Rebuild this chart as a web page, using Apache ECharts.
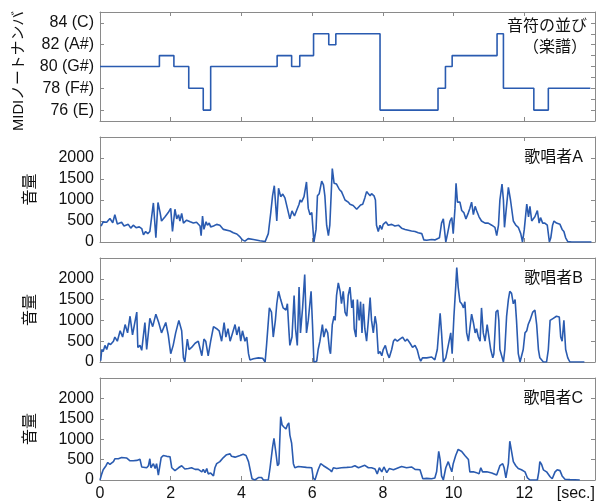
<!DOCTYPE html>
<html><head><meta charset="utf-8">
<script src="https://cdn.jsdelivr.net/npm/echarts@6/dist/echarts.min.js"></script>
<style>html,body{margin:0;padding:0;background:#fff}#c{width:600px;height:502px}</style>
</head><body><div id="c"></div>
<script>
// ---- Data ----
const noteTimes = [0,1.68,2.09,2.51,2.92,3.13,5.01,5.42,5.65,6.04,6.47,6.67,7.92,9.56,9.77,9.96,11.23,11.41,12.27,12.68,13.87];
const noteValues = [80,81,80,78,76,80,81,80,81,83,82,83,76,78,80,81,83,78,76,78,78];
const noteTickValues = [76,78,80,82,84];
const noteTickLabels = ['76 (E)','78 (F#)','80 (G#)','82 (A#)','84 (C)'];

const timesA = [0.03,0.09,0.19,0.28,0.36,0.42,0.49,0.61,0.68,0.80,0.87,0.94,1.02,1.11,1.18,1.23,1.29,1.35,1.41,1.51,1.58,1.64,1.70,1.74,1.84,1.93,2.00,2.05,2.12,2.17,2.22,2.26,2.31,2.36,2.45,2.55,2.64,2.73,2.83,2.86,2.90,2.94,3.00,3.04,3.09,3.13,3.21,3.30,3.39,3.49,3.68,3.77,3.87,3.96,4.03,4.10,4.19,4.34,4.52,4.67,4.71,4.76,4.83,4.88,4.93,5.00,5.05,5.11,5.17,5.23,5.30,5.37,5.43,5.50,5.56,5.63,
5.66,5.70,5.77,5.84,5.89,5.94,5.99,6.05,6.11,6.15,6.20,6.27,6.32,6.36,6.41,6.46,6.50,6.57,6.62,6.69,6.77,6.83,6.88,6.93,7.02,7.07,7.16,7.26,7.31,7.37,7.43,7.49,7.54,7.59,7.64,7.68,7.75,7.79,7.82,7.87,7.92,7.97,8.01,8.09,8.15,8.25,8.34,8.44,8.53,8.63,8.72,8.81,8.91,9.00,9.10,9.16,9.24,9.38,9.47,9.52,9.60,9.66,9.71,9.78,9.83,9.90,9.95,9.99,10.04,10.07,10.11,10.18,10.23,10.29,10.35,10.42,10.46,10.51,10.56,10.61,10.65,10.72,10.79,10.89,10.98,11.08,11.17,11.22,11.27,11.31,11.37,11.41,11.44,11.48,11.55,11.61,11.69,11.76,11.83,11.90,11.95,12.00,12.07,12.12,12.16,12.21,12.26,12.30,12.37,12.42,12.46,12.52,12.58,12.65,12.71,12.75,12.80,12.84,12.91,13.01,13.07,13.12,13.17,13.23,13.34,13.90];
const volumeA = [380,480,470,560,460,650,430,470,380,420,330,400,340,360,320,170,250,200,250,930,100,940,700,500,600,700,800,250,780,550,650,500,680,450,520,480,450,470,380,150,620,300,480,400,450,360,380,420,400,300,260,220,190,120,50,20,80,60,30,10,0,200,700,1100,1340,500,1280,1080,1140,1050,800,550,740,620,750,900,
1000,950,1080,1430,800,650,700,0,300,1100,1150,1450,1360,1100,400,150,400,1747,1400,1380,1250,1200,1100,1000,950,900,870,780,800,880,900,1050,1200,1150,1100,1150,1100,1000,400,250,400,300,420,480,400,420,380,400,330,300,280,260,250,220,200,50,40,60,50,40,100,450,550,0,200,500,580,200,800,1400,950,950,750,700,550,700,800,950,650,850,750,600,500,450,450,400,350,150,400,1000,1380,1000,350,700,1300,1000,500,400,350,200,0,300,900,600,850,500,500,600,750,450,580,450,450,400,0,100,400,500,450,420,300,250,100,10,0,0];

const timesB = [0.02,0.05,0.09,0.14,0.19,0.24,0.30,0.38,0.42,0.49,0.57,0.64,0.71,0.78,0.85,0.92,1.04,1.07,1.13,1.18,1.27,1.32,1.41,1.49,1.58,1.66,1.74,1.86,1.93,2.00,2.07,2.14,2.23,2.31,2.36,2.40,2.47,2.52,2.59,2.69,2.78,2.88,2.94,2.99,3.06,3.13,3.21,3.30,3.37,3.44,3.51,3.56,3.62,3.68,3.82,3.87,3.93,3.98,4.03,4.10,4.15,4.20,4.24,4.34,4.48,4.60,4.67,4.71,4.79,4.85,4.90,4.96,5.00,5.05,5.11,5.18,5.26,5.30,5.34,5.37,5.43,5.49,5.53,5.58,5.63,
5.67,5.73,5.79,5.84,5.89,5.97,6.01,6.05,6.13,6.17,6.22,6.29,6.33,6.39,6.44,6.49,6.52,6.57,6.62,6.65,6.69,6.74,6.79,6.83,6.88,6.93,6.98,7.02,7.07,7.12,7.16,7.19,7.24,7.28,7.33,7.37,7.41,7.45,7.49,7.54,7.59,7.64,7.68,7.73,7.78,7.82,7.87,7.92,7.97,8.01,8.07,8.13,8.18,8.25,8.30,8.34,8.41,8.48,8.56,8.63,8.69,8.77,8.84,8.91,8.97,9.03,9.07,9.12,9.24,9.38,9.47,9.54,9.62,9.66,9.71,9.78,9.85,9.92,9.96,10.01,10.06,10.09,10.13,10.18,10.23,10.28,10.32,10.37,10.42,10.46,10.51,10.56,10.61,10.65,10.70,10.75,10.79,10.84,10.89,10.95,11.00,11.05,11.11,11.14,11.20,11.25,11.28,11.31,11.36,11.41,11.45,11.50,11.55,11.59,11.64,11.69,11.74,11.78,11.83,11.88,11.92,11.97,12.02,12.07,12.11,12.16,12.24,12.30,12.35,12.40,12.44,12.54,12.63,12.68,12.73,12.77,12.82,12.91,12.99,13.03,13.07,13.12,13.17,13.23,13.29,13.70];
const volumeB = [30,300,250,400,300,450,420,500,600,500,750,600,900,700,1100,650,1200,350,400,280,950,300,1050,850,1150,950,700,950,650,200,400,700,1000,750,100,0,550,300,350,450,500,150,550,500,150,500,850,800,750,500,950,600,800,500,900,650,850,500,750,500,600,200,50,80,100,90,0,400,1300,1200,600,1000,1400,1700,1500,1300,1250,1400,800,400,600,1600,800,400,1800,
700,1300,2100,700,1000,1700,900,0,20,300,500,900,600,800,700,300,200,900,1100,1000,1600,1900,1700,1400,1700,1200,1100,1600,1800,1300,1500,800,600,1500,1000,1450,700,1400,800,500,1000,1550,1000,700,1100,900,200,250,150,300,400,200,100,300,500,550,500,550,600,500,550,450,350,400,300,100,20,100,100,120,50,300,1170,700,0,100,400,700,200,1100,1800,2270,1800,1450,1400,1300,1450,700,500,800,1150,950,700,800,600,500,1300,700,500,900,600,300,100,200,1200,1250,1000,300,150,0,300,1100,1500,1700,1650,1400,1500,1000,200,0,20,300,700,750,900,1000,1200,1250,900,300,100,0,0,300,1000,1000,1050,1100,1080,600,500,1000,300,100,0,0];

const timesC = [0.00,0.05,0.09,0.17,0.22,0.28,0.33,0.38,0.42,0.52,0.61,0.75,0.85,0.94,1.04,1.13,1.18,1.32,1.37,1.41,1.44,1.51,1.56,1.60,1.65,1.70,1.73,1.79,1.89,1.98,2.03,2.12,2.22,2.31,2.40,2.50,2.59,2.69,2.78,2.83,2.88,2.92,2.97,3.02,3.06,3.13,3.21,3.25,3.30,3.39,3.49,3.58,3.68,3.72,3.82,3.96,4.05,4.13,4.20,4.26,4.30,4.38,4.48,4.57,4.62,4.76,4.81,4.88,4.92,4.97,5.02,5.06,5.11,5.15,5.20,5.26,5.30,5.34,5.37,5.42,5.47,5.51,5.61,
5.66,5.84,5.99,6.03,6.08,6.13,6.17,6.24,6.32,6.41,6.50,6.55,6.60,6.69,6.83,6.98,7.12,7.21,7.31,7.40,7.49,7.59,7.68,7.78,7.84,7.90,7.97,8.03,8.11,8.18,8.30,8.44,8.53,8.67,8.81,8.91,9.05,9.13,9.24,9.38,9.47,9.52,9.58,9.62,9.66,9.71,9.78,9.85,9.90,9.95,9.99,10.06,10.13,10.23,10.32,10.42,10.46,10.56,10.65,10.72,10.77,10.82,10.94,11.08,11.22,11.31,11.39,11.43,11.48,11.55,11.59,11.64,11.69,11.76,11.83,11.92,12.02,12.09,12.16,12.37,12.41,12.44,12.49,12.54,12.63,12.73,12.79,12.87,12.93,13.01,13.07,13.15,13.29,13.57];
const volumeC = [0,150,250,350,430,380,370,450,520,520,550,540,470,470,480,510,320,300,350,520,300,400,280,400,120,100,550,600,580,570,300,230,300,350,270,280,300,260,260,280,200,260,180,280,150,170,100,300,400,450,550,620,640,580,560,600,630,600,450,200,30,0,60,60,0,0,300,800,1020,700,350,400,1550,1350,1300,1250,1350,1400,1100,900,400,300,330,
330,310,300,50,0,0,250,400,350,300,250,200,300,280,300,310,320,350,300,330,360,300,300,270,150,300,200,320,180,280,250,300,330,300,320,260,250,30,40,30,50,200,700,500,100,0,300,450,320,200,400,600,750,700,600,500,200,200,180,150,300,200,200,170,120,350,400,300,50,400,950,700,450,350,280,250,200,50,0,0,200,450,380,250,200,80,30,200,250,230,100,20,10,0];

const volumeTicks = [0,500,1000,1500,2000];
const xTickLabelLast = '[sec.]';
const panelTitles = ['歌唱者A','歌唱者B','歌唱者C'];
const scoreTitle = ['音符の並び','（楽譜）'];
const yNameTop = 'MIDIノートナンバ';
const yNameVolume = '音量';

// ---- Chart ----
const FONT = "'Liberation Sans','Noto Sans CJK JP',Arial,sans-serif";
const frame = '#8a8a8a';
const blue = '#2a5bb0';
const ink = '#111';
const grids = [
  {left:100, top:12, width:495, height:109},
  {left:100, top:137, width:495, height:105},
  {left:100, top:258, width:495, height:104},
  {left:100, top:378, width:495, height:105}
];
const xAxes = [], yAxes = [];
grids.forEach((g, i) => {
  const last = i === grids.length - 1;
  xAxes.push({
    type:'value', gridIndex:i, position:'bottom', min:0, max:14, interval:2,
    axisLine:{show:true, onZero:false, lineStyle:{color:frame, width:1}},
    axisTick:{show:true, inside:true, length:4, lineStyle:{color:frame}},
    axisLabel:{show:last, color:ink, fontSize:16, fontFamily:FONT, margin:6,
      showMinLabel:true, showMaxLabel:true, alignMaxLabel:'right',
      formatter: v => (v === 14 ? xTickLabelLast : String(v))},
    splitLine:{show:false}
  });
  xAxes.push({
    type:'value', gridIndex:i, position:'top', min:0, max:14, interval:2,
    axisLine:{show:true, onZero:false, lineStyle:{color:frame, width:1}},
    axisTick:{show:true, inside:true, length:4, lineStyle:{color:frame}},
    axisLabel:{show:false}, splitLine:{show:false}
  });
  if (i === 0) {
    yAxes.push({
      type:'value', gridIndex:i, position:'left', min:75, max:85,
      axisLine:{show:true, onZero:false, lineStyle:{color:frame}},
      axisTick:{show:true, inside:true, length:4, customValues:noteTickValues, lineStyle:{color:frame}},
      axisLabel:{customValues:noteTickValues, color:ink, fontSize:16, fontFamily:FONT, margin:6,
        formatter: v => noteTickLabels[noteTickValues.indexOf(v)] || ''},
      splitLine:{show:false}
    });
    yAxes.push({
      type:'value', gridIndex:i, position:'right', min:75, max:85, interval:1,
      axisLine:{show:true, onZero:false, lineStyle:{color:frame}},
      axisTick:{show:true, inside:true, length:4, lineStyle:{color:frame}},
      axisLabel:{show:false}, splitLine:{show:false}
    });
  } else {
    yAxes.push({
      type:'value', gridIndex:i, position:'left', min:0, max:2500, interval:500,
      name:yNameVolume, nameLocation:'middle', nameRotate:90, nameGap:61,
      nameTextStyle:{fontSize:16, color:ink, fontFamily:FONT},
      axisLine:{show:true, onZero:false, lineStyle:{color:frame}},
      axisTick:{show:true, inside:true, length:4, customValues:volumeTicks, lineStyle:{color:frame}},
      axisLabel:{customValues:volumeTicks, color:ink, fontSize:16, fontFamily:FONT, margin:6,
        formatter: v => String(v)},
      splitLine:{show:false}
    });
    yAxes.push({
      type:'value', gridIndex:i, position:'right', min:0, max:2500, interval:500,
      axisLine:{show:true, onZero:false, lineStyle:{color:frame}},
      axisTick:{show:true, inside:true, length:4, customValues:volumeTicks, lineStyle:{color:frame}},
      axisLabel:{show:false}, splitLine:{show:false}
    });
  }
});

const zip = (ts, vs) => ts.map((t, k) => [t, vs[k]]);
const lineStyle = {color:blue, width:1.6};
const series = [
  {type:'line', xAxisIndex:0, yAxisIndex:0, step:'end', showSymbol:false, lineStyle, data:zip(noteTimes, noteValues)},
  {type:'line', xAxisIndex:2, yAxisIndex:2, showSymbol:false, lineStyle, data:zip(timesA, volumeA)},
  {type:'line', xAxisIndex:4, yAxisIndex:4, showSymbol:false, lineStyle, data:zip(timesB, volumeB)},
  {type:'line', xAxisIndex:6, yAxisIndex:6, showSymbol:false, lineStyle, data:zip(timesC, volumeC)}
];

const label = (text, x, y, extra) => Object.assign({type:'text', x, y,
  style:{text, fontSize:16, fontFamily:FONT, fill:ink, align:'right', verticalAlign:'middle'}}, extra || {});
const graphic = [
  label(scoreTitle[0], 587, 27),
  label(scoreTitle[1], 587, 48),
  label(panelTitles[0], 583, 158),
  label(panelTitles[1], 583, 279),
  label(panelTitles[2], 583, 399),
  {type:'text', x:19, y:71, rotation:Math.PI/2,
    style:{text:yNameTop, fontSize:14.8, fontFamily:FONT, fill:ink, align:'center', verticalAlign:'middle'}}
];

const chart = echarts.init(document.getElementById('c'), null, {renderer:'canvas'});
chart.setOption({
  animation:false,
  backgroundColor:'#fff',
  grid:grids, xAxis:xAxes, yAxis:yAxes, series, graphic
});
</script></body></html>
